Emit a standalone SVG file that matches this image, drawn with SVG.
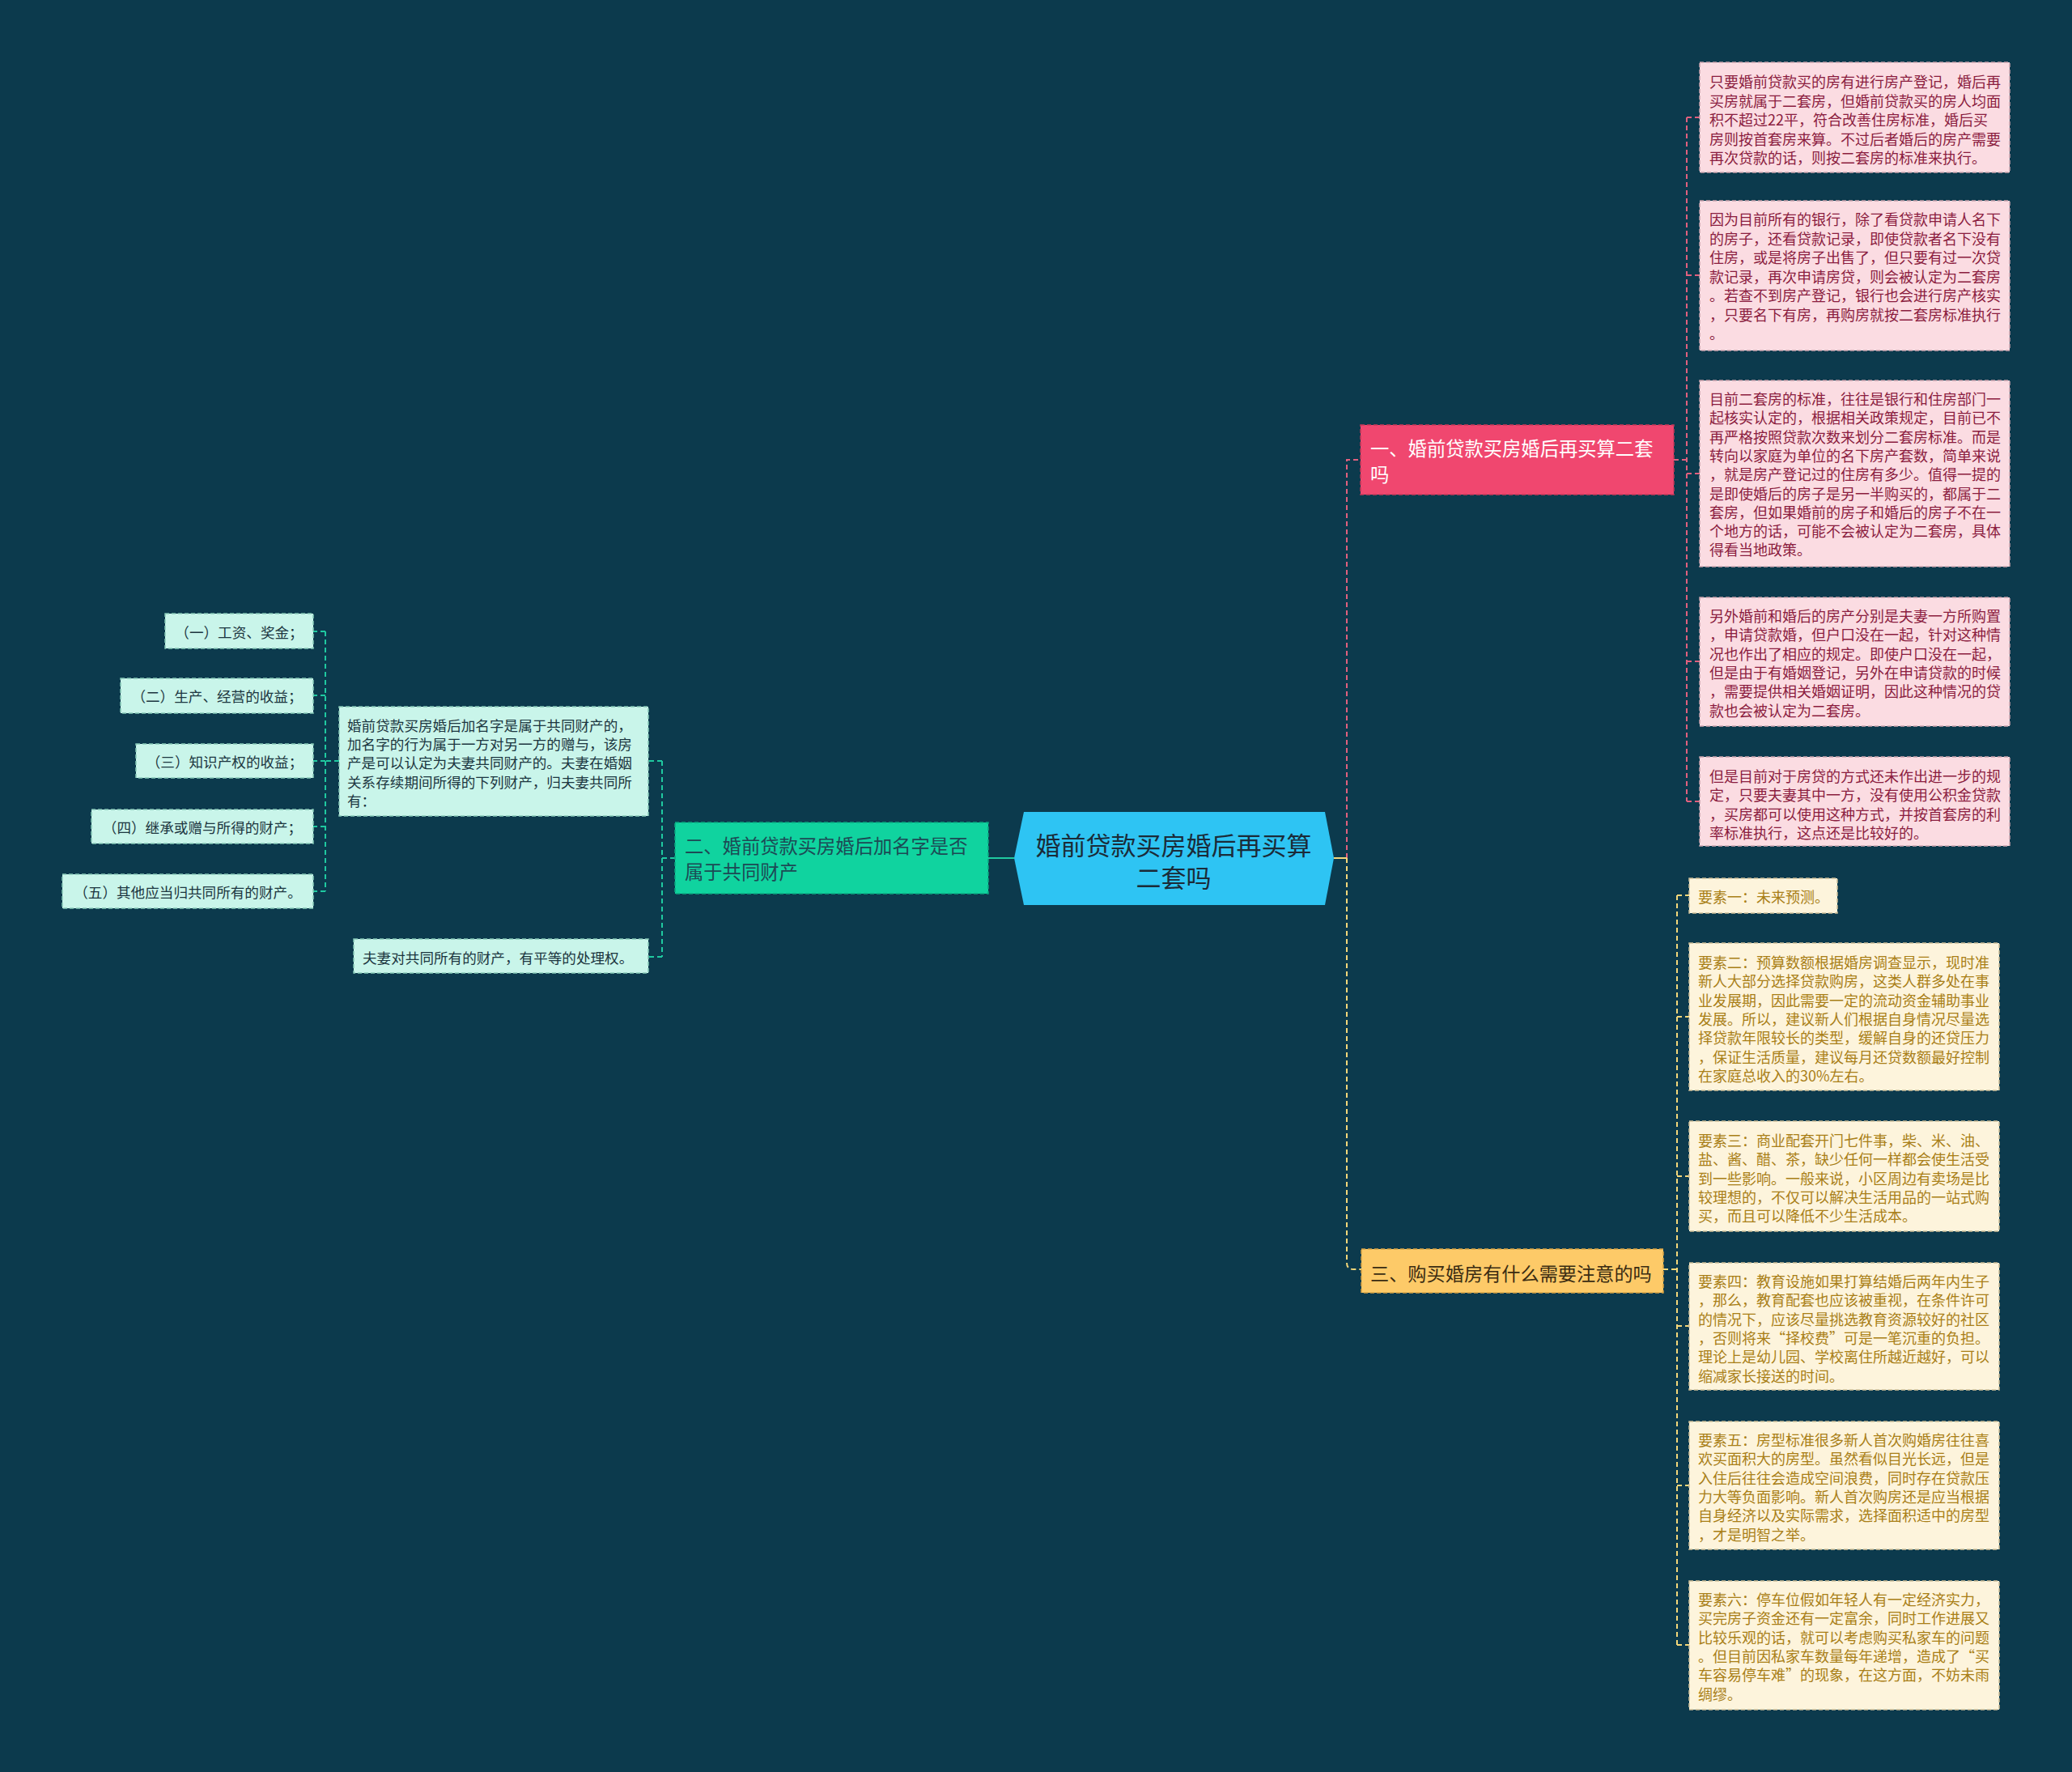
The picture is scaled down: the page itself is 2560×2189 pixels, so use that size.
<svg xmlns="http://www.w3.org/2000/svg" width="2560" height="2189" viewBox="0 0 2560 2189">
<style>
text{font-family:"Noto Sans CJK SC","Noto Sans",sans-serif;dominant-baseline:central}
.pk rect{fill:#fbdce2;stroke:#c9a3ad;stroke-width:1.5;stroke-dasharray:5 3}
.pk text{fill:#8b1d3f;font-size:18px}
.yl rect{fill:#fdf4dc;stroke:#cdbf98;stroke-width:1.5;stroke-dasharray:5 3}
.yl text{fill:#a97f17;font-size:18px}
.gn rect{fill:#c9f5ea;stroke:#86c9b8;stroke-width:1.5;stroke-dasharray:5 3}
.gn text{fill:#1c3640;font-size:17.6px}
.cp{fill:none;stroke:#e0607e;stroke-width:2;stroke-dasharray:6 4}
.cy{fill:none;stroke:#f4d77a;stroke-width:2;stroke-dasharray:6 4}
.cg{fill:none;stroke:#1fc9a0;stroke-width:2;stroke-dasharray:6 4}
</style>
<rect x="0" y="0" width="2560" height="2189" fill="#0c3a4d"/>

<g id="connectors">
  <path class="cp" d="M1664,1060 V568 H1681"/>
  <path d="M1648,1060 H1664" fill="none" stroke="#f4d77a" stroke-width="2"/>
  <path class="cy" d="M1664,1060 V1560 Q1664,1568 1672,1568 H1682"/>
  <path d="M1253,1060 H1221" fill="none" stroke="#1fc9a0" stroke-width="2"/>
  <path class="cp" d="M2068,568 H2084 M2084,145 V990 M2084,145 H2100 M2084,340 H2100 M2084,585 H2100 M2084,817 H2100 M2084,990 H2100"/>
  <path class="cy" d="M2055,1568 H2072 M2072,1106 V2032 M2072,1106 H2087 M2072,1256 H2087 M2072,1453 H2087 M2072,1638 H2087 M2072,1835 H2087 M2072,2032 H2087"/>
  <path class="cg" d="M834,1060 H818 M818,940 V1182 M818,940 H801 M818,1182 H801"/>
  <path class="cg" d="M419,940 H402 M402,780 V1101 M402,780 H387 M402,859 H387 M402,940 H387 M402,1021 H387 M402,1101 H387"/>
</g>

<g id="root">
  <polygon points="1253,1060 1265,1003 1637,1003 1648,1060 1637,1118 1265,1118" fill="#2ec4f3"/>
  <text x="1450" y="1042" font-size="31" text-anchor="middle" fill="#1b2b38">婚前贷款买房婚后再买算</text>
  <text x="1450" y="1082" font-size="31" text-anchor="middle" fill="#1b2b38">二套吗</text>
</g>

<g id="branch1">
  <rect x="1681" y="525" width="387" height="86" fill="#f0476f" stroke="#c6385a" stroke-width="1.5" stroke-dasharray="5 3"/>
  <text x="1693" y="553" font-size="23.3" fill="#ffffff">一、婚前贷款买房婚后再买算二套</text>
  <text x="1693" y="585" font-size="23.3" fill="#ffffff">吗</text>
</g>

<g id="branch2">
  <rect x="834" y="1016" width="387" height="88" fill="#10d39f" stroke="#0aa880" stroke-width="1.5" stroke-dasharray="5 3"/>
  <text x="846" y="1044" font-size="23.3" fill="#1d4a55">二、婚前贷款买房婚后加名字是否</text>
  <text x="846" y="1076" font-size="23.3" fill="#1d4a55">属于共同财产</text>
</g>

<g id="branch3">
  <rect x="1682" y="1543" width="373" height="54" fill="#fdca68" stroke="#d6a244" stroke-width="1.5" stroke-dasharray="5 3"/>
  <text x="1693" y="1572" font-size="23.2" fill="#3a2c12">三、购买婚房有什么需要注意的吗</text>
</g>

<g id="p1" class="pk">
  <rect x="2100" y="77" width="383" height="136"/>
  <text x="2112" y="100">只要婚前贷款买的房有进行房产登记，婚后再</text>
  <text x="2112" y="123.5">买房就属于二套房，但婚前贷款买的房人均面</text>
  <text x="2112" y="147">积不超过22平，符合改善住房标准，婚后买</text>
  <text x="2112" y="170.5">房则按首套房来算。不过后者婚后的房产需要</text>
  <text x="2112" y="194">再次贷款的话，则按二套房的标准来执行。</text>
</g>
<g id="p2" class="pk">
  <rect x="2100" y="248" width="383" height="185"/>
  <text x="2112" y="270">因为目前所有的银行，除了看贷款申请人名下</text>
  <text x="2112" y="293.5">的房子，还看贷款记录，即使贷款者名下没有</text>
  <text x="2112" y="317">住房，或是将房子出售了，但只要有过一次贷</text>
  <text x="2112" y="340.5">款记录，再次申请房贷，则会被认定为二套房</text>
  <text x="2112" y="364">。若查不到房产登记，银行也会进行房产核实</text>
  <text x="2112" y="387.5">，只要名下有房，再购房就按二套房标准执行</text>
  <text x="2112" y="411">。</text>
</g>
<g id="p3" class="pk">
  <rect x="2100" y="470" width="383" height="230"/>
  <text x="2112" y="492">目前二套房的标准，往往是银行和住房部门一</text>
  <text x="2112" y="515.3">起核实认定的，根据相关政策规定，目前已不</text>
  <text x="2112" y="538.6">再严格按照贷款次数来划分二套房标准。而是</text>
  <text x="2112" y="561.9">转向以家庭为单位的名下房产套数，简单来说</text>
  <text x="2112" y="585.2">，就是房产登记过的住房有多少。值得一提的</text>
  <text x="2112" y="608.5">是即使婚后的房子是另一半购买的，都属于二</text>
  <text x="2112" y="631.8">套房，但如果婚前的房子和婚后的房子不在一</text>
  <text x="2112" y="655.1">个地方的话，可能不会被认定为二套房，具体</text>
  <text x="2112" y="678.4">得看当地政策。</text>
</g>
<g id="p4" class="pk">
  <rect x="2100" y="738" width="383" height="159"/>
  <text x="2112" y="760">另外婚前和婚后的房产分别是夫妻一方所购置</text>
  <text x="2112" y="783.3">，申请贷款婚，但户口没在一起，针对这种情</text>
  <text x="2112" y="806.6">况也作出了相应的规定。即使户口没在一起，</text>
  <text x="2112" y="829.9">但是由于有婚姻登记，另外在申请贷款的时候</text>
  <text x="2112" y="853.2">，需要提供相关婚姻证明，因此这种情况的贷</text>
  <text x="2112" y="876.5">款也会被认定为二套房。</text>
</g>
<g id="p5" class="pk">
  <rect x="2100" y="935" width="383" height="110"/>
  <text x="2112" y="958">但是目前对于房贷的方式还未作出进一步的规</text>
  <text x="2112" y="981.3">定，只要夫妻其中一方，没有使用公积金贷款</text>
  <text x="2112" y="1004.6">，买房都可以使用这种方式，并按首套房的利</text>
  <text x="2112" y="1027.9">率标准执行，这点还是比较好的。</text>
</g>

<g id="y1" class="yl">
  <rect x="2087" y="1085" width="183" height="43"/>
  <text x="2098" y="1107">要素一：未来预测。</text>
</g>
<g id="y2" class="yl">
  <rect x="2087" y="1165" width="383" height="182"/>
  <text x="2098" y="1188">要素二：预算数额根据婚房调查显示，现时准</text>
  <text x="2098" y="1211.3">新人大部分选择贷款购房，这类人群多处在事</text>
  <text x="2098" y="1234.6">业发展期，因此需要一定的流动资金辅助事业</text>
  <text x="2098" y="1257.9">发展。所以，建议新人们根据自身情况尽量选</text>
  <text x="2098" y="1281.2">择贷款年限较长的类型，缓解自身的还贷压力</text>
  <text x="2098" y="1304.5">，保证生活质量，建议每月还贷数额最好控制</text>
  <text x="2098" y="1327.8">在家庭总收入的30%左右。</text>
</g>
<g id="y3" class="yl">
  <rect x="2087" y="1385" width="383" height="136"/>
  <text x="2098" y="1408">要素三：商业配套开门七件事，柴、米、油、</text>
  <text x="2098" y="1431.3">盐、酱、醋、茶，缺少任何一样都会使生活受</text>
  <text x="2098" y="1454.6">到一些影响。一般来说，小区周边有卖场是比</text>
  <text x="2098" y="1477.9">较理想的，不仅可以解决生活用品的一站式购</text>
  <text x="2098" y="1501.2">买，而且可以降低不少生活成本。</text>
</g>
<g id="y4" class="yl">
  <rect x="2087" y="1560" width="383" height="157"/>
  <text x="2098" y="1582">要素四：教育设施如果打算结婚后两年内生子</text>
  <text x="2098" y="1605.3">，那么，教育配套也应该被重视，在条件许可</text>
  <text x="2098" y="1628.6">的情况下，应该尽量挑选教育资源较好的社区</text>
  <text x="2098" y="1651.9">，否则将来“择校费”可是一笔沉重的负担。</text>
  <text x="2098" y="1675.2">理论上是幼儿园、学校离住所越近越好，可以</text>
  <text x="2098" y="1698.5">缩减家长接送的时间。</text>
</g>
<g id="y5" class="yl">
  <rect x="2087" y="1756" width="383" height="158"/>
  <text x="2098" y="1778">要素五：房型标准很多新人首次购婚房往往喜</text>
  <text x="2098" y="1801.3">欢买面积大的房型。虽然看似目光长远，但是</text>
  <text x="2098" y="1824.6">入住后往往会造成空间浪费，同时存在贷款压</text>
  <text x="2098" y="1847.9">力大等负面影响。新人首次购房还是应当根据</text>
  <text x="2098" y="1871.2">自身经济以及实际需求，选择面积适中的房型</text>
  <text x="2098" y="1894.5">，才是明智之举。</text>
</g>
<g id="y6" class="yl">
  <rect x="2087" y="1953" width="383" height="159"/>
  <text x="2098" y="1975">要素六：停车位假如年轻人有一定经济实力，</text>
  <text x="2098" y="1998.3">买完房子资金还有一定富余，同时工作进展又</text>
  <text x="2098" y="2021.6">比较乐观的话，就可以考虑购买私家车的问题</text>
  <text x="2098" y="2044.9">。但目前因私家车数量每年递增，造成了“买</text>
  <text x="2098" y="2068.2">车容易停车难”的现象，在这方面，不妨未雨</text>
  <text x="2098" y="2091.5">绸缪。</text>
</g>

<g id="g1" class="gn">
  <rect x="419" y="873" width="382" height="135"/>
  <text x="429" y="895">婚前贷款买房婚后加名字是属于共同财产的，</text>
  <text x="429" y="918.4">加名字的行为属于一方对另一方的赠与，该房</text>
  <text x="429" y="941.8">产是可以认定为夫妻共同财产的。夫妻在婚姻</text>
  <text x="429" y="965.2">关系存续期间所得的下列财产，归夫妻共同所</text>
  <text x="429" y="988.6">有：</text>
</g>
<g id="g2" class="gn">
  <rect x="437" y="1160" width="364" height="42"/>
  <text x="448" y="1182">夫妻对共同所有的财产，有平等的处理权。</text>
</g>
<g id="l1" class="gn">
  <rect x="204" y="758" width="183" height="43"/>
  <text x="295.5" y="780" text-anchor="middle">（一）工资、奖金；</text>
</g>
<g id="l2" class="gn">
  <rect x="149" y="838" width="238" height="43"/>
  <text x="268" y="859.5" text-anchor="middle">（二）生产、经营的收益；</text>
</g>
<g id="l3" class="gn">
  <rect x="168" y="919" width="219" height="42"/>
  <text x="277.5" y="940" text-anchor="middle">（三）知识产权的收益；</text>
</g>
<g id="l4" class="gn">
  <rect x="113" y="1000" width="274" height="42"/>
  <text x="250" y="1021" text-anchor="middle">（四）继承或赠与所得的财产；</text>
</g>
<g id="l5" class="gn">
  <rect x="77" y="1080" width="310" height="42"/>
  <text x="232" y="1101" text-anchor="middle">（五）其他应当归共同所有的财产。</text>
</g>
</svg>
